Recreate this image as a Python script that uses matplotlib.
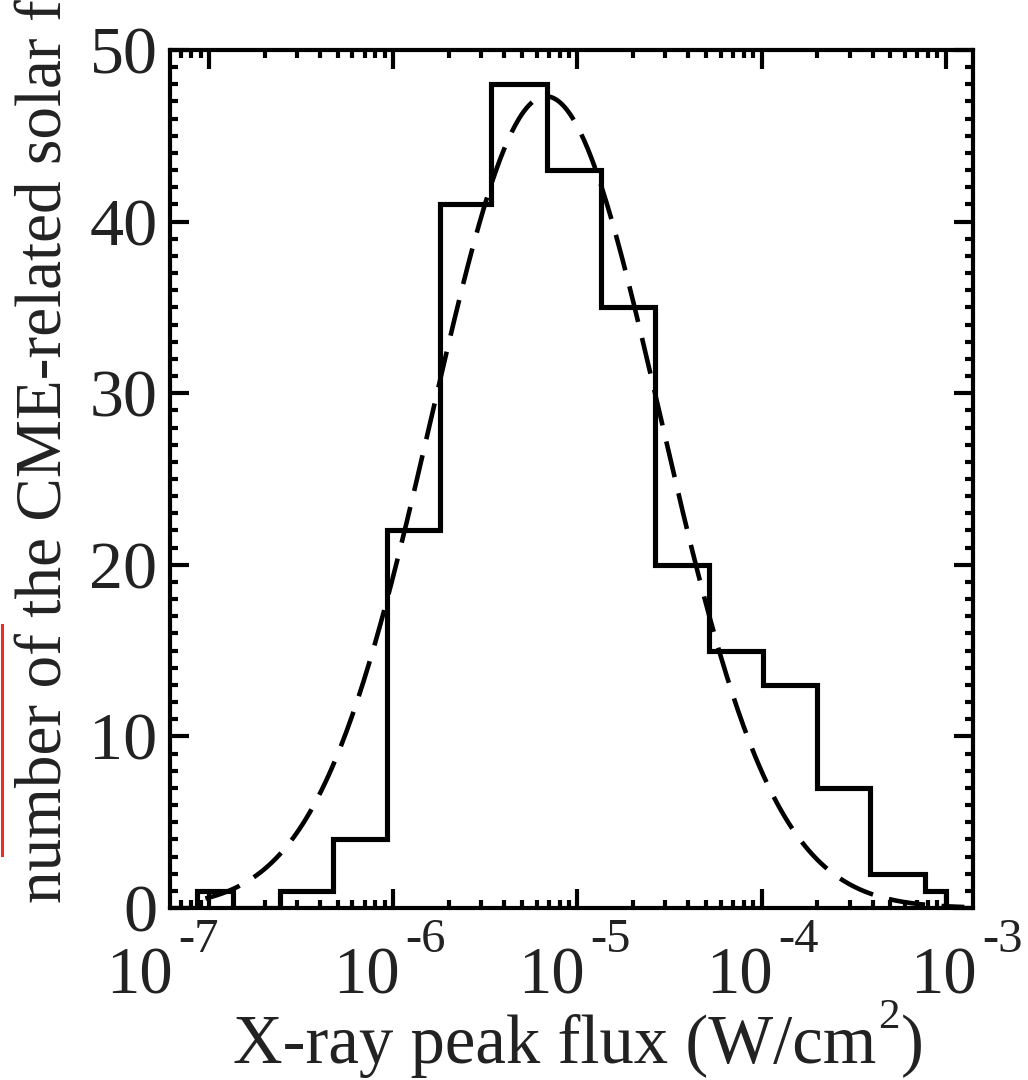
import numpy as np
import matplotlib
matplotlib.use('Agg')
import matplotlib.pyplot as plt
from matplotlib.lines import Line2D
from matplotlib.ticker import LogLocator, MultipleLocator, NullFormatter

plt.rcParams['font.family'] = ['Liberation Serif', 'DejaVu Serif']

# ---- data ----
log_edges = [-7.212, -7.065, -6.870, -6.615, -6.327, -6.034, -5.746, -5.469,
             -5.166, -4.872, -4.579, -4.286, -3.993, -3.700, -3.413, -3.114,
             -3.000, -2.853]
counts = [0, 1, 0, 1, 4, 22, 41, 48, 43, 35, 20, 15, 13, 7, 2, 1, 0]
fit_peak = 47.3
fit_center_log = -5.171
fit_sigma_log = 0.62
fit_range_log = [-7.02, -2.9]
tick_exponents = [-7, -6, -5, -4, -3]
y_label = 'number of the CME-related solar flares'
x_label_parts = ['X-ray peak flux (W/cm', '2', ')']

# ---- layout ----
W, H = 1028, 1080
fig = plt.figure(figsize=(W / 100, H / 100), dpi=100)
ax = fig.add_axes([170 / W, 172 / H, 803 / W, 858 / H])

edges = 10 ** np.array(log_edges)
ax.stairs(counts, edges, color='black', linewidth=3.7, baseline=0)

xs = np.logspace(fit_range_log[0], fit_range_log[1], 400)
ys = fit_peak * np.exp(-0.5 * ((np.log10(xs) - fit_center_log) / fit_sigma_log) ** 2)
ax.plot(xs, ys, color='black', lw=3.3, dashes=(8.0, 3.6))

ax.set_xscale('log')
ax.set_xlim(edges[0], edges[-1])
ax.set_ylim(0, 50)

ax.xaxis.set_major_locator(LogLocator(base=10, numticks=20))
ax.xaxis.set_minor_locator(LogLocator(base=10, subs=np.arange(2, 10), numticks=20))
ax.xaxis.set_major_formatter(NullFormatter())
ax.xaxis.set_minor_formatter(NullFormatter())
ax.yaxis.set_major_locator(MultipleLocator(10))
ax.yaxis.set_minor_locator(MultipleLocator(1))

ax.tick_params(which='both', direction='in', top=True, right=True, width=3, color='black')
ax.tick_params(which='major', length=14)
ax.tick_params(which='minor', length=6)
ax.tick_params(axis='y', labelsize=49, pad=9, labelcolor='#222222')
for s in ax.spines.values():
    s.set_linewidth(3)

# x tick labels: "10" with a superscript exponent (hyphen sign as in the reference)
ten_right_px = [173, 400, 585, 773, 977]
for n, xr in zip(tick_exponents, ten_right_px):
    fig.text(xr / W, 87 / H, '10', ha='right', va='baseline', fontsize=48, color='#222222')
    fig.text((xr + 5) / W, 128 / H, f'-{abs(n)}', ha='left', va='baseline', fontsize=35,
             color='#222222')

# x axis title, with a raised "2"
renderer = fig.canvas.get_renderer()
t1 = fig.text(233 / W, 17 / H, x_label_parts[0], ha='left', va='baseline',
              fontsize=49.5, color='#222222')
x_end = t1.get_window_extent(renderer).x1
t2 = fig.text((x_end + 2) / W, 52 / H, x_label_parts[1], ha='left', va='baseline',
              fontsize=31, color='#222222')
x_end2 = t2.get_window_extent(renderer).x1
fig.text((x_end2 + 1) / W, 17 / H, x_label_parts[2], ha='left', va='baseline',
         fontsize=49.5, color='#222222')

fig.text(62 / W, (H - 903) / H, y_label, rotation=90, rotation_mode='anchor',
         ha='left', va='baseline', fontsize=47, color='#222222')

fig.add_artist(Line2D([1.5 / W, 1.5 / W], [(H - 625) / H, (H - 855) / H],
                      color='#ee2b2b', lw=2.2, transform=fig.transFigure))

fig.savefig('out.png', dpi=100)
